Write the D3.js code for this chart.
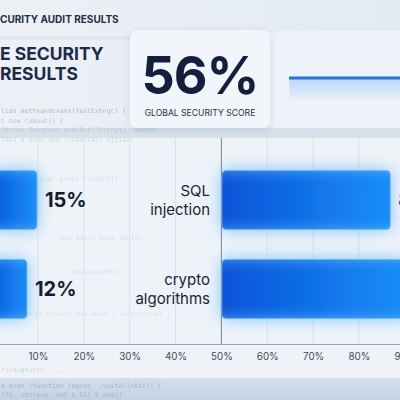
<!DOCTYPE html>
<html><head><meta charset="utf-8">
<script src="https://cdn.jsdelivr.net/npm/d3@7"></script>
<style>
html,body{margin:0;padding:0;background:#e8eef5;overflow:hidden}
svg{display:block;font-family:Inter,"Noto Sans",sans-serif}
</style></head>
<body>
<svg id="c" width="400" height="400"></svg>
<script>
// ---- data ----
const headerText = "CURITY AUDIT RESULTS";
const titleLines = ["E SECURITY", "RESULTS"];
const globalScore = 56;
const scoreLabel = "GLOBAL SECURITY SCORE";
const leftValues = [15, 12];
const rightCategories = [["SQL", "injection"], ["crypto", "algorithms"]];
const rightValues = [85, 94];
const tickValues = [10, 20, 30, 40, 50, 60, 70, 80, 90];
const codeLines = [
  "lian mathsandexams(fastExhngc) {",
  "t new comaut() {",
  "Strine Sanotver.aod(BntlString$], Sensg;",
  "  fais a soon ons (nssecfal) eitial;"
];
const bottomCode = ["e scan (function (ageec. ,vuitelinkit)) {", "   (fs. sat(eeg, emt & SI) 6 mam))"];

const svg = d3.select("#c");
const defs = svg.append("defs");

// background gradients
const bg = defs.append("linearGradient").attr("id","bg").attr("x1",0).attr("y1",0).attr("x2",1).attr("y2",0);
bg.append("stop").attr("offset","0").attr("stop-color","#edf1f6");
bg.append("stop").attr("offset","1").attr("stop-color","#e3eaf3");
const bot = defs.append("linearGradient").attr("id","bot").attr("x1",0).attr("y1",0).attr("x2",0).attr("y2",1);
bot.append("stop").attr("offset","0").attr("stop-color","#d3deea");
bot.append("stop").attr("offset","1").attr("stop-color","#c3d2e3");
const barG = defs.append("linearGradient").attr("id","barG").attr("x1",0).attr("y1",0).attr("x2",1).attr("y2",0);
barG.append("stop").attr("offset","0").attr("stop-color","#0753d8");
barG.append("stop").attr("offset","1").attr("stop-color","#1a8ff7");
const barV = defs.append("linearGradient").attr("id","barV").attr("x1",0).attr("y1",0).attr("x2",0).attr("y2",1);
barV.append("stop").attr("offset","0").attr("stop-color","#6cc4ff").attr("stop-opacity",0.35);
barV.append("stop").attr("offset","0.25").attr("stop-color","#1e6ff0").attr("stop-opacity",0);
barV.append("stop").attr("offset","0.75").attr("stop-color","#1e6ff0").attr("stop-opacity",0);
barV.append("stop").attr("offset","1").attr("stop-color","#6cc4ff").attr("stop-opacity",0.35);
const areaG = defs.append("linearGradient").attr("id","areaG").attr("x1",0).attr("y1",0).attr("x2",0).attr("y2",1);
areaG.append("stop").attr("offset","0").attr("stop-color","#5aa6ee").attr("stop-opacity",0.35);
areaG.append("stop").attr("offset","1").attr("stop-color","#5aa6ee").attr("stop-opacity",0);
const glow = defs.append("filter").attr("id","glow").attr("x","-30%").attr("y","-50%").attr("width","160%").attr("height","200%");
glow.append("feGaussianBlur").attr("in","SourceAlpha").attr("stdDeviation",8).attr("result","b");
glow.append("feFlood").attr("flood-color","#2f9bff").attr("flood-opacity",0.6);
glow.append("feComposite").attr("in2","b").attr("operator","in").attr("result","g");
const gm = glow.append("feMerge"); gm.append("feMergeNode").attr("in","g"); gm.append("feMergeNode").attr("in","SourceGraphic");
const sh = defs.append("filter").attr("id","sh").attr("x","-20%").attr("y","-20%").attr("width","140%").attr("height","150%");
sh.append("feDropShadow").attr("dx",0).attr("dy",2).attr("stdDeviation",4).attr("flood-color","#8ea3bd").attr("flood-opacity",0.35);

// backgrounds
svg.append("rect").attr("width",400).attr("height",400).attr("fill","url(#bg)");
svg.append("rect").attr("x",0).attr("y",128).attr("width",400).attr("height",10).attr("fill","#d7e1ec");
svg.append("rect").attr("x",0).attr("y",138).attr("width",400).attr("height",240).attr("fill","#eef3f8");
svg.append("rect").attr("x",0).attr("y",378).attr("width",400).attr("height",22).attr("fill","url(#bot)");
svg.append("rect").attr("x",0).attr("y",36).attr("width",130).attr("height",4).attr("fill","#dfe7f0");

// faint code text
const code = svg.append("g").attr("font-family","'DejaVu Sans Mono',monospace").attr("font-size",6.5).attr("fill","#a9b5c4");
code.selectAll("text.c").data(codeLines).join("text").attr("class","c").attr("x",1).attr("y",(d,i)=>113+i*9.5).attr("opacity",(d,i)=>0.9-i*0.15).text(d=>d);
code.selectAll("text.b").data(bottomCode).join("text").attr("class","b").attr("x",1).attr("y",(d,i)=>388+i*9).text(d=>d);
code.append("text").attr("x",40).attr("y",181).attr("opacity",0.35).text("suat onset  Elegant()");
code.append("text").attr("x",60).attr("y",240).attr("opacity",0.35).text("  new Shell Ause (nefn)");
code.append("text").attr("x",70).attr("y",274).attr("opacity",0.3).text("noncounceRtf|");
code.append("text").attr("x",10).attr("y",316).attr("opacity",0.3).text("function  fruuest.hwe.anuu  ( auiecurenal  )");
code.append("text").attr("x",1).attr("y",372).attr("opacity",0.5).text(" ricaughuter  .... ");

// header & title
svg.append("text").attr("x",0).attr("y",23).attr("font-size",10).attr("font-weight",700).attr("fill","#1e2b45").text(headerText);
svg.selectAll("text.title").data(titleLines).join("text").attr("class","title")
  .attr("x",0).attr("y",(d,i)=>60+i*20).attr("font-size",17.5).attr("font-weight",700).attr("fill","#1b2a4a").text(d=>d);

// right mini panel with line
svg.append("rect").attr("x",268).attr("y",31).attr("width",140).attr("height",97).attr("rx",6).attr("fill","#eef3f9");
const lx = d3.scaleLinear().domain([0,100]).range([289, 480]);
svg.append("rect").attr("x",lx(0)).attr("y",79).attr("width",lx(100)-lx(0)).attr("height",24).attr("fill","url(#areaG)");
svg.append("line").attr("x1",lx(0)).attr("x2",lx(100)).attr("y1",78).attr("y2",78).attr("stroke","#1f78dd").attr("stroke-width",3);

// score card
svg.append("rect").attr("x",130).attr("y",30).attr("width",140).attr("height",98).attr("rx",7).attr("fill","#f2f5f9").attr("filter","url(#sh)");
svg.append("text").attr("x",200).attr("y",94).attr("text-anchor","middle").attr("font-size",52).attr("font-weight",700)
  .attr("letter-spacing",-1).attr("fill","#12203e").text(globalScore + "%");
svg.append("text").attr("x",200).attr("y",116).attr("text-anchor","middle").attr("font-size",8.6).attr("fill","#27324a").text(scoreLabel);

// scales
const x = d3.scaleLinear().domain([0,100]).range([-7.9, 450.7]);
const y = d3.scaleBand().domain([0,1]).range([155.5,333.5]).paddingInner(0.337).paddingOuter(0.17);
const xl = d3.scaleLinear().domain([0,100]).range([-13, 320]);
const xr = d3.scaleLinear().domain([0,100]).range([222, 420]);

// grid
svg.append("g").selectAll("line").data(tickValues).join("line")
  .attr("x1",d=>x(d)).attr("x2",d=>x(d)).attr("y1",138).attr("y2",344).attr("stroke","#dbe2ea").attr("stroke-width",1);
svg.append("line").attr("x1",x(50)).attr("x2",x(50)).attr("y1",138).attr("y2",344).attr("stroke","#7f8894").attr("stroke-width",1);

// axis
const ax = svg.append("g").attr("transform","translate(0,344)")
  .call(d3.axisBottom(x).tickValues(tickValues).tickFormat(d=>d+"%").tickSize(0).tickPadding(9));
ax.select(".domain").attr("stroke","#9aa3ae").attr("stroke-width",1.2);
ax.selectAll("text").attr("font-size",9.8).attr("fill","#3e4a5c").attr("font-family","Inter,sans-serif");

// bars
function drawBars(vals, sc) {
  const g = svg.append("g");
  g.selectAll("rect.b").data(vals).join("rect").attr("class","b")
    .attr("x",sc(0)).attr("y",(d,i)=>y(i)).attr("width",d=>sc(d)-sc(0)).attr("height",y.bandwidth())
    .attr("rx",4).attr("fill","url(#barG)").attr("filter","url(#glow)");
  g.selectAll("rect.v").data(vals).join("rect").attr("class","v")
    .attr("x",sc(0)).attr("y",(d,i)=>y(i)).attr("width",d=>sc(d)-sc(0)).attr("height",y.bandwidth())
    .attr("rx",4).attr("fill","url(#barV)").attr("stroke","#6fc0ff").attr("stroke-opacity",0.6).attr("stroke-width",1);
  // value labels (only those whose anchor lies inside the visible frame)
  g.selectAll("text").data(vals.map((v,i)=>({v,i})).filter(d=>sc(d.v)+8 < 400)).join("text")
    .attr("x",d=>sc(d.v)+8).attr("y",d=>y(d.i)+y.bandwidth()/2+7).attr("font-size",20).attr("font-weight",700)
    .attr("fill","#131d33").text(d=>d.v+"%");
}
drawBars(leftValues, xl);
drawBars(rightValues, xr);

// right category labels
const lab = svg.append("g");
rightCategories.forEach((lines,i)=>{
  lab.append("text").attr("x",210).attr("y",y(i)+y.bandwidth()/2-4).attr("text-anchor","end")
    .attr("font-size",15).attr("fill","#1b2436")
    .selectAll("tspan").data(lines).join("tspan").attr("x",210).attr("dy",(d,j)=>j===0?0:19).text(d=>d);
});
</script>
</body></html>
